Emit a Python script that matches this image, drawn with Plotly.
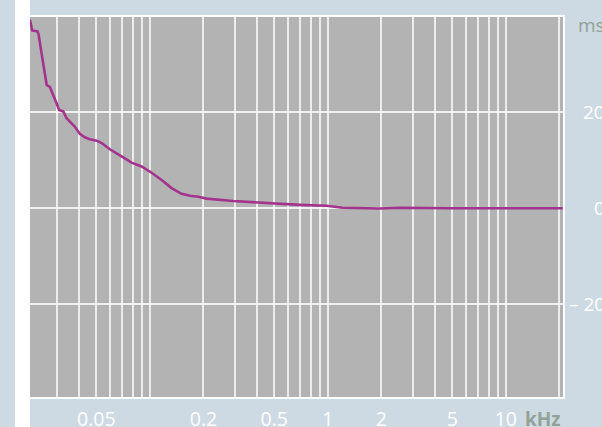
import math
import plotly.graph_objects as go

# ---- data ----
freq_khz = [0.0212, 0.0218, 0.0234, 0.0237, 0.0263, 0.0274, 0.0299, 0.0309, 0.0326,
            0.0340, 0.0363, 0.0379, 0.0404, 0.0431, 0.0460, 0.0502, 0.0536, 0.0596,
            0.0708, 0.0789, 0.0898, 0.1022, 0.1164, 0.1324, 0.1507, 0.168, 0.187,
            0.208, 0.293, 0.452, 0.697, 0.984, 1.21, 1.96, 2.54, 4.84, 10.0, 20.9]
delay_ms = [39.3, 37.1, 36.9, 36.2, 25.7, 25.3, 21.9, 20.5, 20.2, 18.8, 17.7, 17.0,
            15.5, 14.8, 14.4, 14.1, 13.6, 12.3, 10.6, 9.5, 8.7, 7.4, 5.9, 4.2, 3.0,
            2.6, 2.4, 2.0, 1.5, 1.05, 0.7, 0.5, 0.1, -0.05, 0.1, 0.0, 0.0, 0.0]

x_grid = [0.03, 0.04, 0.05, 0.06, 0.07, 0.08, 0.09,
          0.1, 0.2, 0.3, 0.4, 0.5, 0.6, 0.7, 0.8, 0.9,
          1, 2, 3, 4, 5, 6, 7, 8, 9, 10, 20]
x_labels = {0.05: "0.05", 0.2: "0.2", 0.5: "0.5", 1: "1", 2: "2", 5: "5", 10: "10"}
y_ticks = [20, 0, -20]
y_labels = ["20", "0", "\u2013 20"]
x_unit = "kHz"
y_unit = "ms"

# ---- style ----
BG = "#cddae3"
PLOT_BG = "#b3b3b3"
CURVE = "#a3338c"
UNIT_C = "#93a296"
FONT = "Open Sans"
W, H = 602, 427
L, R, T, B = 30, 39, 17, 30

fig = go.Figure()
fig.add_trace(go.Scatter(x=freq_khz, y=delay_ms, mode="lines",
                         line=dict(color=CURVE, width=2.6), hoverinfo="skip"))

fig.update_layout(
    width=W, height=H,
    margin=dict(l=L, r=R, t=T, b=B, pad=0, autoexpand=False),
    paper_bgcolor=BG, plot_bgcolor=PLOT_BG,
    showlegend=False,
    font=dict(family=FONT, color="white", size=19),
)
fig.update_xaxes(
    type="log", range=[math.log10(0.0212), math.log10(20.95)],
    tickvals=x_grid, ticktext=[x_labels.get(v, "") for v in x_grid],
    showgrid=True, gridcolor="rgba(255,255,255,0.75)", gridwidth=1.5,
    ticks="", ticklabelstandoff=4, automargin=False,
    showline=True, linecolor="white", linewidth=2, mirror=True,
    zeroline=False, tickfont=dict(color="white", size=19.5, family=FONT),
)
fig.update_yaxes(
    range=[-39.4, 39.9], tickvals=y_ticks, showticklabels=False, automargin=False,
    showgrid=True, gridcolor="rgba(255,255,255,0.8)", gridwidth=1.5,
    zeroline=False, showline=True, linecolor="white", linewidth=2, mirror=True,
)

pw = W - L - R
ph = H - T - B
# white strip on the left
fig.add_shape(type="rect", xref="paper", yref="paper",
              x0=-15 / pw, x1=0, y0=-B / ph, y1=1 + T / ph,
              fillcolor="white", line_width=0, layer="below")

x_right = (606.5 - L) / pw
for v, t in zip(y_ticks, y_labels):
    fig.add_annotation(x=x_right, xref="paper", y=v, yref="y", text=t,
                       showarrow=False, xanchor="right", yanchor="middle",
                       font=dict(color="white", size=19, family=FONT))
fig.add_annotation(x=x_right, xref="paper", y=1 - (25 - T) / ph, yref="paper",
                   text=y_unit, showarrow=False, xanchor="right", yanchor="middle",
                   font=dict(color=UNIT_C, size=19, family=FONT))
fig.add_annotation(x=1.0, xref="paper", y=-(418.5 - T - ph) / ph, yref="paper",
                   text="<b>" + x_unit + "</b>", showarrow=False, xanchor="right",
                   yanchor="middle", font=dict(color=UNIT_C, size=19, family=FONT))

fig.write_html("out.html", config={"displayModeBar": False},
               post_script="document.body.style.margin='0';document.body.style.overflow='hidden';")
